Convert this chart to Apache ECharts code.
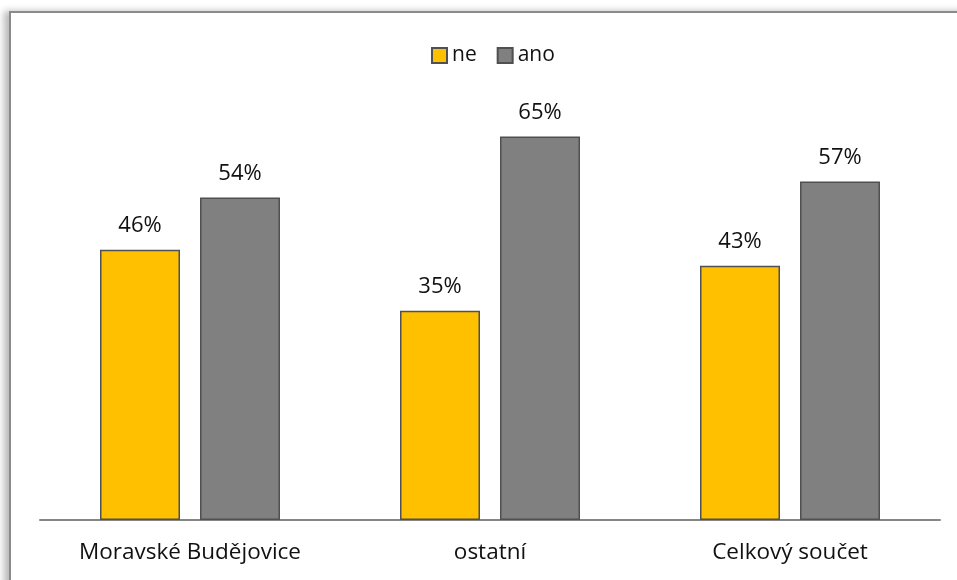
<!DOCTYPE html>
<html>
<head>
<meta charset="utf-8">
<script src="https://cdn.jsdelivr.net/npm/echarts@6/dist/echarts.min.js"></script>
<style>
  html, body { margin: 0; padding: 0; background: #fff; overflow: hidden; }
  #frame {
    position: absolute; left: 9px; top: 11px; width: 960px; height: 580px;
    border-top: 2px solid #8a8a8a; border-left: 2px solid #8a8a8a;
    box-shadow: -5px 0 7px rgba(0,0,0,0.28);
  }
  #chart { position: absolute; left: 0; top: 0; width: 957px; height: 580px; }
</style>
</head>
<body>
<div id="frame"></div>
<div id="chart"></div>
<script>
// kategorie a hodnoty
var categories = ['Moravské Budějovice', 'ostatní', 'Celkový součet'];
var ne = [0.456, 0.353, 0.429];
var ano = [0.544, 0.647, 0.571];

var chart = echarts.init(document.getElementById('chart'));
var font = 'Open Sans';

var labelStyle = {
  show: true,
  position: 'top',
  distance: 13,
  color: '#111',
  fontFamily: font,
  fontSize: 22,
  formatter: function (p) { return Math.round(p.value * 100) + '%'; }
};

chart.setOption({
  animation: false,
  legend: {
    top: 40,
    left: 426,
    icon: 'rect',
    itemWidth: 15,
    itemHeight: 15,
    itemGap: 20,
    textStyle: { fontFamily: font, fontSize: 21, color: '#111' },
    data: ['ne', 'ano']
  },
  grid: { left: 40, right: 17, top: 105, bottom: 60 },
  xAxis: {
    type: 'category',
    data: categories,
    axisLine: { lineStyle: { color: '#868686', width: 2 } },
    axisTick: { show: false },
    axisLabel: { fontFamily: font, fontSize: 22.5, color: '#111', margin: 21 }
  },
  yAxis: {
    type: 'value',
    min: 0,
    max: 0.7,
    show: false,
    splitLine: { show: false }
  },
  series: [
    {
      name: 'ne',
      type: 'bar',
      data: ne,
      barWidth: 80,
      barGap: '25%',
      itemStyle: { color: '#FFC000', borderColor: '#505050', borderWidth: 1.5 },
      label: labelStyle
    },
    {
      name: 'ano',
      type: 'bar',
      data: ano,
      barWidth: 80,
      itemStyle: { color: '#808080', borderColor: '#505050', borderWidth: 1.5 },
      label: labelStyle
    }
  ]
});
</script>
</body>
</html>
